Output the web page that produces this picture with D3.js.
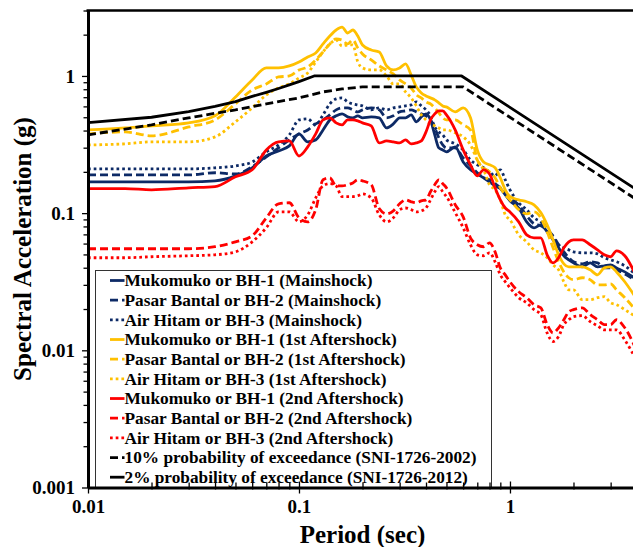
<!DOCTYPE html>
<html>
<head>
<meta charset="utf-8">
<script src="https://cdn.jsdelivr.net/npm/d3@7"></script>
<style>
  body { margin: 0; background: #fff; }
  svg { display: block; background: #fff; }
  text { font-family: "Liberation Serif", "Times New Roman", serif; font-weight: bold; fill: #000; }
</style>
</head>
<body>
<svg id="chart" width="633" height="547"></svg>
<script>
// Response spectra (5% damping), spectral acceleration in g at each period (sec)
const periods = [0.01,0.015,0.02,0.03,0.04,0.05,0.06,0.07,0.08,0.09,0.10,0.11,0.12,0.13,0.14,0.15,0.16,0.17,0.18,0.19,0.20,0.22,0.24,0.26,0.28,0.30,0.32,0.34,0.36,0.38,0.40,0.42,0.44,0.46,0.48,0.50,0.55,0.60,0.65,0.70,0.75,0.80,0.85,0.90,0.95,1.0,1.1,1.2,1.3,1.4,1.5,1.6,1.7,1.8,1.9,2.0,2.2,2.4,2.6,2.8,3.0,3.2,3.5,4.0];

const mainshockBH1 = [0.169,0.169,0.169,0.169,0.172,0.187,0.214,0.261,0.284,0.309, 0.378,0.331,0.342,0.404,0.478,0.512,0.529,0.503,0.495,0.512, 0.495,0.503,0.495,0.418,0.447,0.495,0.495,0.520,0.463,0.503, 0.529,0.478,0.372,0.299,0.289,0.280,0.304,0.236,0.207,0.193, 0.181,0.169,0.158,0.151,0.136,0.123,0.109,0.0864,0.0782,0.0822, 0.0731,0.0639,0.0559,0.0489,0.0457,0.0434,0.0406,0.0434,0.0406,0.0413, 0.0420,0.0399,0.0373,0.0327];
const mainshockBH2 = [0.190,0.190,0.190,0.190,0.197,0.193,0.218,0.257,0.299,0.342, 0.378,0.404,0.447,0.478,0.520,0.566,0.585,0.585,0.566,0.547, 0.566,0.585,0.566,0.495,0.512,0.547,0.556,0.566,0.547,0.529, 0.512,0.478,0.418,0.354,0.314,0.299,0.299,0.253,0.221,0.197, 0.181,0.175,0.164,0.153,0.141,0.129,0.115,0.0956,0.0836,0.0808, 0.0756,0.0684,0.0588,0.0522,0.0473,0.0442,0.0427,0.0442,0.0434,0.0399, 0.0399,0.0386,0.0361,0.0316];
const mainshockBH3 = [0.210,0.210,0.210,0.210,0.214,0.221,0.236,0.280,0.314,0.372, 0.478,0.487,0.440,0.520,0.626,0.680,0.692,0.647,0.626,0.615, 0.605,0.566,0.585,0.566,0.585,0.595,0.605,0.615,0.647,0.605, 0.566,0.512,0.425,0.391,0.372,0.342,0.320,0.289,0.244,0.225, 0.214,0.200,0.187,0.207,0.175,0.148,0.119,0.106,0.0924,0.0864, 0.0782,0.0661,0.0588,0.0559,0.0540,0.0522,0.0514,0.0514,0.0505,0.0473, 0.0457,0.0442,0.0413,0.0349];

const aftershock1BH1 = [0.404,0.418,0.433,0.455,0.512,0.703,0.935,1.144,1.144,1.183, 1.265,1.376,1.471,1.711,1.956,2.163,2.273,2.057,2.163,1.956, 1.682,1.547,1.496,1.183,1.106,1.144,1.223,1.017,0.832,0.752, 0.715,0.692,0.669,0.636,0.605,0.595,0.547,0.585,0.495,0.289, 0.236,0.225,0.214,0.181,0.148,0.132,0.125,0.121,0.115,0.101, 0.0822,0.0639,0.0497,0.0427,0.0406,0.0406,0.0406,0.0386,0.0355,0.0399, 0.0406,0.0373,0.0316,0.0234];
const aftershock1BH2 = [0.378,0.391,0.366,0.425,0.478,0.626,0.791,0.875,0.983,1.000, 1.106,1.163,1.308,1.496,1.711,1.860,1.829,1.711,1.829,1.600, 1.447,1.308,1.183,1.106,1.035,0.935,0.875,0.818,0.727,0.692, 0.647,0.626,0.585,0.538,0.495,0.478,0.478,0.440,0.404,0.244, 0.214,0.200,0.181,0.153,0.136,0.125,0.106,0.0988,0.102,0.0924, 0.0731,0.0559,0.0442,0.0373,0.0338,0.0327,0.0338,0.0327,0.0300,0.0300, 0.0305,0.0276,0.0242,0.0191];
const aftershock1BH3 = [0.314,0.320,0.331,0.331,0.360,0.463,0.585,0.727,0.818,0.875, 0.967,1.052,1.265,1.496,1.711,1.829,1.654,1.682,1.682,1.265, 1.144,1.106,1.106,1.000,0.875,0.875,0.765,0.692,0.605,0.520, 0.478,0.447,0.433,0.418,0.404,0.404,0.385,0.360,0.314,0.244, 0.207,0.161,0.148,0.125,0.0972,0.0894,0.0695,0.0618,0.0540,0.0514, 0.0473,0.0420,0.0386,0.0316,0.0276,0.0276,0.0234,0.0234,0.0242,0.0246, 0.0222,0.0215,0.0198,0.0173];

const aftershock2BH1 = [0.151,0.151,0.148,0.153,0.156,0.184,0.207,0.289,0.331,0.336, 0.261,0.304,0.378,0.478,0.495,0.455,0.440,0.478,0.478,0.470, 0.455,0.433,0.325,0.336,0.331,0.325,0.342,0.320,0.325,0.336, 0.391,0.478,0.529,0.556,0.556,0.520,0.404,0.289,0.225,0.187, 0.207,0.193,0.153,0.125,0.109,0.102,0.0864,0.0695,0.0661,0.0661, 0.0497,0.0434,0.0473,0.0559,0.0618,0.0639,0.0639,0.0588,0.0540,0.0497, 0.0481,0.0531,0.0489,0.0338];
const aftershock2BH2 = [0.0550,0.0550,0.0550,0.0550,0.0569,0.0618,0.0684,0.0924,0.117,0.119, 0.0924,0.0864,0.106,0.175,0.181,0.158,0.158,0.161,0.166,0.175, 0.172,0.161,0.108,0.0988,0.104,0.117,0.125,0.121,0.119,0.123, 0.125,0.143,0.161,0.175,0.164,0.153,0.115,0.0940,0.0661,0.0588, 0.0569,0.0608,0.0522,0.0399,0.0355,0.0316,0.0267,0.0242,0.0215,0.0204, 0.0154,0.0134,0.0146,0.0167,0.0191,0.0198,0.0204,0.0182,0.0167,0.0154, 0.0154,0.0167,0.0146,0.0098];
const aftershock2BH3 = [0.0473,0.0473,0.0481,0.0489,0.0497,0.0522,0.0618,0.0782,0.102,0.102, 0.0864,0.0972,0.129,0.158,0.164,0.158,0.132,0.132,0.132,0.134, 0.138,0.129,0.0972,0.0864,0.0924,0.106,0.109,0.106,0.102,0.104, 0.109,0.125,0.143,0.156,0.143,0.132,0.101,0.0782,0.0588,0.0497, 0.0489,0.0514,0.0442,0.0355,0.0316,0.0286,0.0242,0.0222,0.0198,0.0182, 0.0134,0.0116,0.0126,0.0154,0.0167,0.0176,0.0179,0.0162,0.0151,0.0141, 0.0141,0.0141,0.0119,0.0083];

// Design spectra
const design2002Periods = [0.01,0.02,0.03,0.05,0.07,0.10,0.13,0.16,0.20,0.60,4.0];
const design2002Sa      = [0.372,0.440,0.495,0.566,0.626,0.692,0.765,0.804,0.832,0.832,0.125];
const design2012Periods = [0.01,0.02,0.03,0.04,0.05,0.06,0.07,0.08,0.09,0.10,0.118,0.59,4.0];
const design2012Sa      = [0.457,0.50,0.55,0.60,0.65,0.71,0.76,0.81,0.86,0.91,1.0,1.0,0.1475];

const seriesLabels = [
  "Mukomuko or BH-1 (Mainshock)",
  "Pasar Bantal or BH-2 (Mainshock)",
  "Air Hitam or BH-3 (Mainshock)",
  "Mukomuko or BH-1 (1st Aftershock)",
  "Pasar Bantal or BH-2 (1st Aftershock)",
  "Air Hitam or BH-3 (1st Aftershock)",
  "Mukomuko or BH-1 (2nd Aftershock)",
  "Pasar Bantal or BH-2 (2nd Aftershock)",
  "Air Hitam or BH-3 (2nd Aftershock)",
  "10% probability of exceedance (SNI-1726-2002)",
  "2% probability of exceedance (SNI-1726-2012)"
];
const yTickLabels = ["0.001", "0.01", "0.1", "1"];
const xTickLabels = ["0.01", "0.1", "1"];

// ---- styling ----
const NAVY = "#0d2a66", GOLD = "#ffc000", RED = "#ff0000", BLACK = "#000";
const DASH = "8,4", DOT = "2.7,3";

const series = [
  { pts: periods.map((t, i) => [t, mainshockBH1[i]]), color: NAVY, dash: null, smooth: true },
  { pts: periods.map((t, i) => [t, mainshockBH2[i]]), color: NAVY, dash: DASH, smooth: true },
  { pts: periods.map((t, i) => [t, mainshockBH3[i]]), color: NAVY, dash: DOT, smooth: true },
  { pts: periods.map((t, i) => [t, aftershock1BH1[i]]), color: GOLD, dash: null, smooth: true },
  { pts: periods.map((t, i) => [t, aftershock1BH2[i]]), color: GOLD, dash: DASH, smooth: true },
  { pts: periods.map((t, i) => [t, aftershock1BH3[i]]), color: GOLD, dash: DOT, smooth: true },
  { pts: periods.map((t, i) => [t, aftershock2BH1[i]]), color: RED, dash: null, smooth: true },
  { pts: periods.map((t, i) => [t, aftershock2BH2[i]]), color: RED, dash: DASH, smooth: true },
  { pts: periods.map((t, i) => [t, aftershock2BH3[i]]), color: RED, dash: DOT, smooth: true },
  { pts: design2002Periods.map((t, i) => [t, design2002Sa[i]]), color: BLACK, dash: DASH, smooth: false },
  { pts: design2012Periods.map((t, i) => [t, design2012Sa[i]]), color: BLACK, dash: null, smooth: false }
];
series.forEach((s, i) => s.label = seriesLabels[i]);

const svg = d3.select("#chart");
const plotL = 88, plotR = 637, plotT = 10.5, plotB = 487.5;

const x = d3.scaleLog().domain([0.01, 4]).range([plotL, plotR]);
const y = d3.scaleLog().domain([0.001, 3]).range([plotB, plotT]);

svg.append("defs").append("clipPath").attr("id", "plotArea")
  .append("rect").attr("x", plotL).attr("y", plotT).attr("width", plotR - plotL).attr("height", plotB - plotT);

// spectra
const smoothLine = d3.line().x(d => x(d[0])).y(d => y(d[1])).curve(d3.curveMonotoneX);
const straightLine = d3.line().x(d => x(d[0])).y(d => y(d[1]));
const gLines = svg.append("g").attr("clip-path", "url(#plotArea)");
gLines.selectAll("path").data(series).join("path")
  .attr("d", d => (d.smooth ? smoothLine : straightLine)(d.pts))
  .attr("fill", "none")
  .attr("stroke", d => d.color)
  .attr("stroke-width", 2.8)
  .attr("stroke-linejoin", "round")
  .attr("stroke-dasharray", d => d.dash);

// legend
const lg = svg.append("g");
lg.append("rect").attr("x", 95.5).attr("y", 270.5).attr("width", 396).attr("height", 217)
  .attr("fill", "#fff").attr("stroke", "#333").attr("stroke-width", 1);
const rowH = 19.67;
const rows = lg.selectAll("g.row").data(series).join("g")
  .attr("class", "row")
  .attr("transform", (d, i) => `translate(0,${280.5 + i * rowH})`);
rows.append("line").attr("x1", 110).attr("x2", 124.5).attr("y1", 0).attr("y2", 0)
  .attr("stroke", d => d.color).attr("stroke-width", 2.8)
  .attr("stroke-dasharray", d => d.dash);
rows.append("text").attr("x", 124.5).attr("y", 0).attr("dy", "0.34em")
  .attr("font-size", 17.3).text(d => d.label);

// axes
const decadesY = [0.001, 0.01, 0.1, 1];
const yTicks = [];
decadesY.forEach(d => { for (let k = 1; k <= 9; k++) { const v = d * k; if (v <= 3.0001) yTicks.push(v); } });
const isMajor = v => Math.abs(Math.log10(v) - Math.round(Math.log10(v))) < 1e-6;

const yAxis = d3.axisLeft(y).tickValues(yTicks).tickSize(6).tickSizeOuter(0).tickPadding(7)
  .tickFormat(v => isMajor(v) ? yTickLabels[decadesY.findIndex(d => Math.abs(d - v) < 1e-9)] : "");
const gy = svg.append("g").attr("transform", `translate(${plotL},0)`).call(yAxis);
gy.select(".domain").attr("stroke", "#000").attr("stroke-width", 3);
gy.selectAll(".tick line").attr("stroke", "#000").attr("stroke-width", 1.3)
  .attr("x2", v => isMajor(v) ? -6 : -4.5);
gy.selectAll(".tick text").attr("font-size", 19).attr("font-family", null).attr("dy", "0.34em");

const decadesX = [0.01, 0.1, 1];
const xTicks = [];
decadesX.forEach(d => { for (let k = 1; k <= 9; k++) { const v = d * k; if (v <= 4.0001) xTicks.push(v); } });
const xAxis = d3.axisBottom(x).tickValues(xTicks).tickSize(5).tickSizeOuter(0).tickPadding(6)
  .tickFormat(v => isMajor(v) ? xTickLabels[decadesX.findIndex(d => Math.abs(d - v) < 1e-9)] : "");
const gx = svg.append("g").attr("transform", `translate(0,${plotB})`).call(xAxis);
gx.select(".domain").attr("stroke", "#000").attr("stroke-width", 3);
gx.selectAll(".tick line").attr("stroke", "#000").attr("stroke-width", 1.3)
  .attr("y1", v => isMajor(v) ? -6 : -5)
  .attr("y2", v => isMajor(v) ? 6 : 2);
gx.selectAll(".tick text").attr("font-size", 19).attr("font-family", null).attr("y", 12.5);

// top frame
svg.append("line").attr("x1", plotL - 1.5).attr("x2", plotR).attr("y1", plotT).attr("y2", plotT)
  .attr("stroke", "#000").attr("stroke-width", 2.5);

// axis titles
svg.append("text").attr("x", (plotL + plotR) / 2).attr("y", 543)
  .attr("text-anchor", "middle").attr("font-size", 25).text("Period (sec)");
svg.append("text").attr("transform", `translate(31,${(plotT + plotB) / 2}) rotate(-90)`)
  .attr("text-anchor", "middle").attr("font-size", 25).text("Spectral Acceleration (g)");
</script>
</body>
</html>
